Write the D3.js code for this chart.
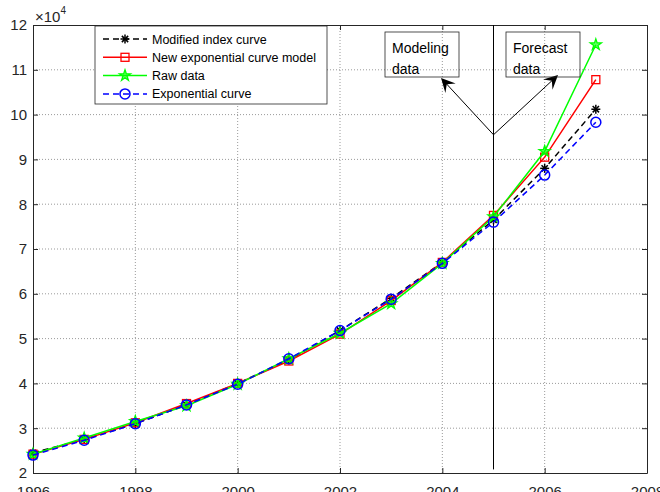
<!DOCTYPE html>
<html>
<head>
<meta charset="utf-8">
<script src="https://cdn.jsdelivr.net/npm/d3@7"></script>
<style>
body { margin: 0; background: #fff; }
text { font-family: Arial, "Liberation Sans", sans-serif; }
</style>
</head>
<body>
<svg id="output" width="660" height="492"></svg>
<script>
// years and values (x 10^4)
var years = [1996, 1997, 1998, 1999, 2000, 2001, 2002, 2003, 2004, 2005, 2006, 2007];
var modified = [2.45, 2.75, 3.10, 3.52, 4.00, 4.52, 5.18, 5.90, 6.70, 7.65, 8.80, 10.12];
var newExp = [2.42, 2.75, 3.12, 3.55, 4.00, 4.50, 5.10, 5.85, 6.70, 7.75, 9.05, 10.78];
var raw = [2.42, 2.78, 3.15, 3.50, 3.98, 4.55, 5.12, 5.78, 6.68, 7.72, 9.18, 11.56];
var expCurve = [2.40, 2.73, 3.10, 3.52, 3.98, 4.55, 5.18, 5.88, 6.68, 7.60, 8.65, 9.83];
var xTicks = [1996, 1998, 2000, 2002, 2004, 2006, 2008];
var yTicks = [2, 3, 4, 5, 6, 7, 8, 9, 10, 11, 12];
var splitYear = 2005;

var svg = d3.select('#output');
var pLeft = 33, pRight = 647, pTop = 25, pBottom = 473;
var x = d3.scaleLinear().domain([1996, 2008]).range([pLeft, pRight]);
var y = d3.scaleLinear().domain([2, 12]).range([pBottom, pTop]);

// grid
var grid = svg.append('g');
xTicks.slice(1, -1).forEach(function (t) {
    grid.append('line').attr('x1', x(t)).attr('x2', x(t)).attr('y1', pTop).attr('y2', pBottom)
        .attr('stroke', '#555').attr('stroke-width', 0.6).attr('stroke-dasharray', '1,2');
});
yTicks.slice(1, -1).forEach(function (t) {
    grid.append('line').attr('x1', pLeft).attr('x2', pRight).attr('y1', y(t)).attr('y2', y(t))
        .attr('stroke', '#555').attr('stroke-width', 0.6).attr('stroke-dasharray', '1,2');
});

// axes
var ax = svg.append('g').attr('transform', 'translate(0,' + pBottom + ')')
    .call(d3.axisBottom(x).tickValues(xTicks).tickFormat(d3.format('d')).tickSizeInner(-5).tickSizeOuter(0).tickPadding(13));
var ay = svg.append('g').attr('transform', 'translate(' + pLeft + ',0)')
    .call(d3.axisLeft(y).tickValues(yTicks).tickSizeInner(-5).tickSizeOuter(0).tickPadding(6));
var axTop = svg.append('g').attr('transform', 'translate(0,' + pTop + ')')
    .call(d3.axisTop(x).tickValues(xTicks).tickFormat('').tickSizeInner(-5).tickSizeOuter(0));
var ayR = svg.append('g').attr('transform', 'translate(' + pRight + ',0)')
    .call(d3.axisRight(y).tickValues(yTicks).tickFormat('').tickSizeInner(-5).tickSizeOuter(0));
[ax, ay, axTop, ayR].forEach(function (g) {
    g.selectAll('path, line').attr('stroke', '#262626');
    g.selectAll('text').attr('font-size', 15).attr('fill', '#262626').attr('font-family', 'Arial, "Liberation Sans", sans-serif');
});
svg.append('text').attr('x', 35).attr('y', 22).attr('font-size', 15).attr('fill', '#262626')
    .text('\u00d710').append('tspan').attr('dy', -8).attr('font-size', 10).text('4');

// split line
svg.append('line').attr('x1', x(splitYear)).attr('x2', x(splitYear)).attr('y1', pTop).attr('y2', y(2.08))
    .attr('stroke', '#000').attr('stroke-width', 1);

// marker helpers
function star(g, cx, cy, col) {
    g.append('path').attr('d', d3.symbol().type(d3.symbolStar).size(38)()).attr('transform', 'translate(' + cx + ',' + cy + ')')
        .attr('fill', col).attr('fill-opacity', 0.6).attr('stroke', col).attr('stroke-width', 1.3);
}
function asterisk(g, cx, cy, col) {
    var r = 4.5;
    [[-r, 0, r, 0], [0, -r, 0, r], [-r * 0.7, -r * 0.7, r * 0.7, r * 0.7], [-r * 0.7, r * 0.7, r * 0.7, -r * 0.7]].forEach(function (s) {
        g.append('line').attr('x1', cx + s[0]).attr('y1', cy + s[1]).attr('x2', cx + s[2]).attr('y2', cy + s[3])
            .attr('stroke', col).attr('stroke-width', 1.5);
    });
}
function square(g, cx, cy, col) {
    g.append('rect').attr('x', cx - 4).attr('y', cy - 4).attr('width', 8).attr('height', 8)
        .attr('fill', 'none').attr('stroke', col).attr('stroke-width', 1.3);
}
function circle(g, cx, cy, col) {
    g.append('circle').attr('cx', cx).attr('cy', cy).attr('r', 5).attr('fill', 'none').attr('stroke', col).attr('stroke-width', 1.5);
}

var series = [
    { name: 'Modified index curve', vals: modified, color: '#000', dash: '6,4', mark: asterisk },
    { name: 'New exponential curve model', vals: newExp, color: '#ff0000', dash: null, mark: square },
    { name: 'Raw data', vals: raw, color: '#00ff00', dash: null, mark: star },
    { name: 'Exponential curve', vals: expCurve, color: '#0000ff', dash: '6,4', mark: circle }
];

var line = d3.line().x(function (d, i) { return x(years[i]); }).y(function (d) { return y(d); });
series.forEach(function (s) {
    var g = svg.append('g');
    g.append('path').datum(s.vals).attr('d', line).attr('fill', 'none').attr('stroke', s.color)
        .attr('stroke-width', 1.5).attr('stroke-dasharray', s.dash);
    s.vals.forEach(function (v, i) { s.mark(g, x(years[i]), y(v), s.color); });
});

// legend
var lg = svg.append('g');
lg.append('rect').attr('x', 95).attr('y', 26).attr('width', 232).attr('height', 78)
    .attr('fill', '#fff').attr('stroke', '#262626').attr('stroke-width', 0.8);
series.forEach(function (s, i) {
    var ly = 39 + i * 18.3;
    lg.append('line').attr('x1', 103).attr('x2', 147).attr('y1', ly).attr('y2', ly)
        .attr('stroke', s.color).attr('stroke-width', 1.5).attr('stroke-dasharray', s.dash);
    s.mark(lg, 125, ly, s.color);
    lg.append('text').attr('x', 152).attr('y', ly + 4.5).attr('font-size', 12.5).attr('fill', '#000').text(s.name);
});

// annotations
svg.append('defs').append('marker').attr('id', 'arr').attr('viewBox', '0 0 10 10').attr('refX', 9).attr('refY', 5)
    .attr('markerWidth', 14).attr('markerHeight', 14).attr('markerUnits', 'userSpaceOnUse').attr('orient', 'auto')
    .append('path').attr('d', 'M0,0 L10,5 L0,10 L4,5 Z').attr('fill', '#000');
var origin = [x(splitYear), y(9.55)];
[[442, 79], [557, 76]].forEach(function (p) {
    svg.append('line').attr('x1', origin[0]).attr('y1', origin[1]).attr('x2', p[0]).attr('y2', p[1])
        .attr('stroke', '#000').attr('stroke-width', 1).attr('marker-end', 'url(#arr)');
});
[{ x0: 385, lines: ['Modeling', 'data'] }, { x0: 506, lines: ['Forecast', 'data'] }].forEach(function (b) {
    svg.append('rect').attr('x', b.x0).attr('y', 32).attr('width', 74).attr('height', 45)
        .attr('fill', 'none').attr('stroke', '#262626').attr('stroke-width', 0.8);
    b.lines.forEach(function (t, i) {
        svg.append('text').attr('x', b.x0 + 7).attr('y', 53 + i * 21).attr('font-size', 14).attr('fill', '#000').text(t);
    });
});
</script>
</body>
</html>
